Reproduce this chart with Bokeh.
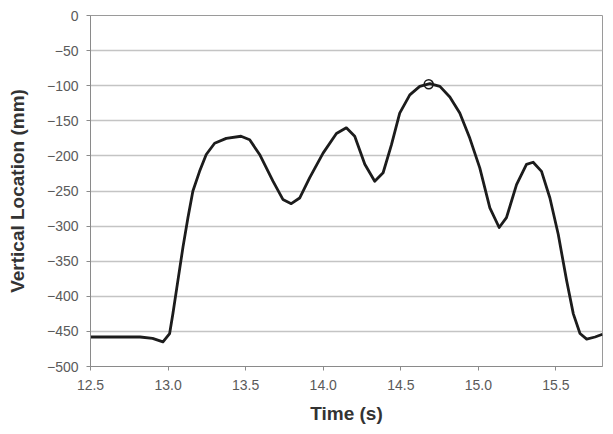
from bokeh.plotting import figure
from bokeh.models import Range1d, FixedTicker
from bokeh.embed import file_html
from bokeh.resources import INLINE

# Data
time_s = [12.5, 12.6, 12.7, 12.82, 12.9, 12.967, 13.01, 13.031, 13.063, 13.096,
          13.128, 13.16, 13.203, 13.246, 13.3, 13.375, 13.47, 13.526, 13.59,
          13.676, 13.74, 13.794, 13.848, 13.913, 13.999, 14.085, 14.149, 14.203,
          14.268, 14.332, 14.386, 14.44, 14.493, 14.558, 14.622, 14.687, 14.752,
          14.816, 14.88, 14.945, 15.009, 15.074, 15.134, 15.181, 15.246, 15.31,
          15.353, 15.407, 15.461, 15.515, 15.569, 15.612, 15.655, 15.698, 15.752,
          15.8]
location_mm = [-458, -458, -458, -458, -460, -465, -453, -425, -378, -330,
               -288, -250, -222, -198, -182, -175, -172, -177, -198,
               -236, -262, -268, -260, -231, -196, -168, -160, -172,
               -212, -236, -224, -184, -139, -113, -101, -97, -101,
               -116, -139, -175, -217, -274, -302, -288, -241, -212,
               -209, -222, -260, -312, -378, -425, -453, -461, -458,
               -454]
peak_time = [14.68]
peak_loc = [-98]

x_ticks = [12.5, 13.0, 13.5, 14.0, 14.5, 15.0, 15.5]
y_ticks = [0, -50, -100, -150, -200, -250, -300, -350, -400, -450, -500]

p = figure(width=613, height=434, output_backend="svg", toolbar_location=None,
           x_range=Range1d(12.5, 15.8), y_range=Range1d(-500, 0),
           min_border_left=90, min_border_right=11, min_border_top=15, min_border_bottom=68)
p.frame_width = 512
p.frame_height = 351

p.line(time_s, location_mm, line_color="#1c1c1c", line_width=2.8, line_join="round")
p.scatter(peak_time, peak_loc, marker="circle", size=9, fill_color=None,
          line_color="#1c1c1c", line_width=1.5)

p.outline_line_color = "#9a9a9a"
p.outline_line_width = 1

p.xgrid.visible = False
p.ygrid.grid_line_color = "#c4c4c4"
p.ygrid.grid_line_width = 1.5

font = "Liberation Sans"
for ax in (p.xaxis[0], p.yaxis[0]):
    ax.axis_line_color = "#8a8a8a"
    ax.major_tick_line_color = "#8a8a8a"
    ax.major_tick_out = 4
    ax.major_tick_in = 0
    ax.minor_tick_line_color = None
    ax.major_label_text_font = font
    ax.major_label_text_font_size = "14px"
    ax.major_label_text_color = "#5a5a5a"
    ax.axis_label_text_font = font
    ax.axis_label_text_font_style = "bold"
    ax.axis_label_text_color = "#333333"
    ax.axis_label_text_font_size = "19px"

p.xaxis.ticker = FixedTicker(ticks=x_ticks)
p.yaxis.ticker = FixedTicker(ticks=y_ticks)
p.xaxis.major_label_overrides = {t: f"{t:.1f}" for t in x_ticks}
p.xaxis.axis_label = "Time (s)"
p.yaxis.axis_label = "Vertical Location (mm)"
p.xaxis.major_label_standoff = 9
p.xaxis.axis_label_standoff = 10
p.yaxis.major_label_standoff = 8
p.yaxis.axis_label_standoff = 16

open("out.html", "w").write(file_html(p, INLINE))
